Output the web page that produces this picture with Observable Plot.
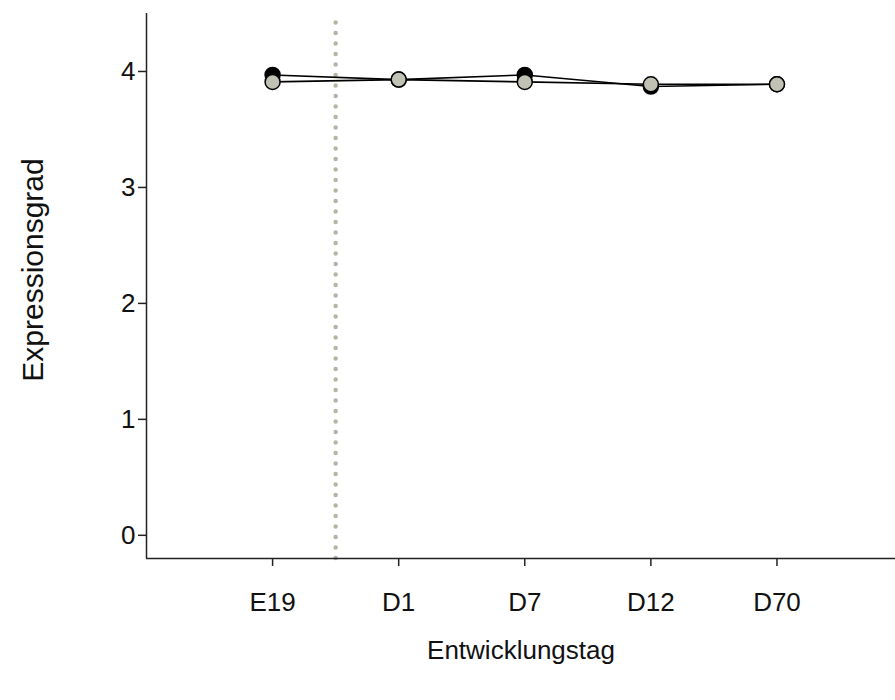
<!DOCTYPE html>
<html>
<head>
<meta charset="utf-8">
<script src="https://cdn.jsdelivr.net/npm/d3@7"></script>
<script src="https://cdn.jsdelivr.net/npm/@observablehq/plot@0.6"></script>
<style>
  html, body { margin: 0; padding: 0; background: #fff; }
  #chart svg { display: block; }
</style>
</head>
<body>
<div id="chart"></div>
<script>
const days = ["E19", "D1", "D7", "D12", "D70"];
const seriesDark = [3.97, 3.93, 3.97, 3.87, 3.89];
const seriesLight = [3.91, 3.93, 3.91, 3.89, 3.89];
const errDark = [0.04, 0.04, 0.04, 0.03, 0.03];
const errLight = [0.04, 0.05, 0.05, 0.03, 0.03];
const yTicks = [0, 1, 2, 3, 4];
const birthDivider = 0.5;
const xTitle = "Entwicklungstag";
const yTitle = "Expressionsgrad";

const dark = days.map((d, i) => ({i, day: d, v: seriesDark[i], e: errDark[i]}));
const light = days.map((d, i) => ({i, day: d, v: seriesLight[i], e: errLight[i]}));

const xDomain = [-1, 4.94];
const yDomain = [-0.2, 4.5];

const plot = Plot.plot({
  width: 895,
  height: 700,
  marginLeft: 146,
  marginRight: 0,
  marginTop: 13,
  marginBottom: 142,
  style: {fontFamily: "'Liberation Sans', Arial, sans-serif", fontSize: "26px", color: "#111"},
  x: {type: "linear", domain: xDomain},
  y: {type: "linear", domain: yDomain},
  marks: [
    Plot.ruleX([birthDivider], {x: d => d, y1: yDomain[0], y2: yDomain[1], stroke: "#b5b5a5", strokeWidth: 4.5, strokeDasharray: "0 10.5", strokeLinecap: "round"}),
    Plot.ruleX([xDomain[0]], {x: d => d, stroke: "#222", strokeWidth: 1.5}),
    Plot.ruleY([yDomain[0]], {y: d => d, stroke: "#222", strokeWidth: 1.5}),
    Plot.axisX({ticks: days.map((d, i) => i), tickFormat: i => days[i], tickSize: 8, tickPadding: 26, stroke: "#222", strokeWidth: 1.5, fontSize: 26, label: null}),
    Plot.axisY({ticks: yTicks, tickFormat: d => String(d), tickSize: 8, tickPadding: 3, stroke: "#222", strokeWidth: 1.5, fontSize: 26, label: null}),
    Plot.text([xTitle], {x: null, y: null, text: d => d, frameAnchor: "bottom", dy: 100, fontSize: 26, fill: "#111"}),
    Plot.text([yTitle], {x: null, y: null, text: d => d, frameAnchor: "left", textAnchor: "middle", dx: -113, dy: -16, rotate: -90, fontSize: 30, fill: "#111"}),
    Plot.ruleX(dark, {x: "i", y1: d => d.v - d.e, y2: d => d.v + d.e, stroke: "#000", strokeWidth: 1.2}),
    Plot.ruleX(light, {x: "i", y1: d => d.v - d.e, y2: d => d.v + d.e, stroke: "#000", strokeWidth: 1.2}),
    Plot.line(dark, {x: "i", y: "v", stroke: "#000", strokeWidth: 1.6}),
    Plot.line(light, {x: "i", y: "v", stroke: "#000", strokeWidth: 1.6}),
    Plot.dot(dark, {x: "i", y: "v", r: 7.5, fill: "#000", stroke: "#000", strokeWidth: 1.5}),
    Plot.dot(light, {x: "i", y: "v", r: 7.5, fill: "#c2c2b4", stroke: "#000", strokeWidth: 1.5})
  ]
});
document.getElementById("chart").appendChild(plot);
</script>
</body>
</html>
